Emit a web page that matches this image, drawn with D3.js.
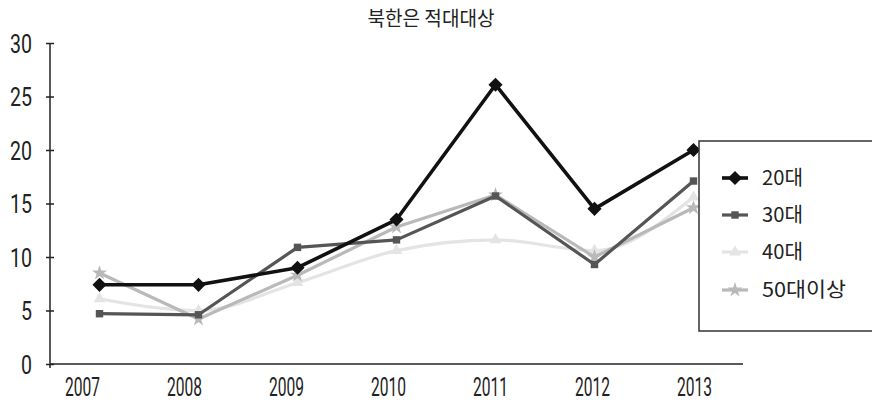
<!DOCTYPE html>
<html><head><meta charset="utf-8">
<script src="https://cdn.jsdelivr.net/npm/d3@7"></script>
<style>
html,body{margin:0;padding:0;background:#fff;}
svg{display:block;font-family:"Noto Sans CJK KR","Noto Sans",sans-serif;}
</style></head>
<body>
<svg id="c" width="872" height="403"></svg>
<script>
const title = "북한은 적대대상";
const years = ["2007","2008","2009","2010","2011","2012","2013"];
const yTicks = [0,5,10,15,20,25,30];
const seriesNames = ["20대","30대","40대","50대이상"];
const s20 = [7.4, 7.4, 9.0, 13.5, 26.1, 14.5, 20.0];
const s30 = [4.7, 4.6, 10.9, 11.6, 15.7, 9.3, 17.1];
const s40 = [6.1, 5.0, 7.6, 10.6, 11.6, 10.6, 15.6];
const s50 = [8.5, 4.2, 8.3, 12.8, 15.8, 10.0, 14.6];

const styles = [
  {color:"#111111", width:3.6, marker:"diamond", size:100},
  {color:"#555555", width:3.2, marker:"square", size:55},
  {color:"#e4e4e4", width:3.2, marker:"triangle", size:60},
  {color:"#b9b9b9", width:3.2, marker:"star", size:70}
];
const data = [s20, s30, s40, s50];
const numFont = "Roboto, 'DejaVu Sans', sans-serif";

const svg = d3.select("#c");
const x0 = 50, x1 = 743, yTop = 43, yBot = 364;
const x = d3.scaleBand().domain(years).range([x0, x1]);
// tick labels in the scan sit on a slightly wider spacing than the points
const xLab = d3.scalePoint().domain(years).range([82, 694]);
const y = d3.scaleLinear().domain([0,30]).range([yBot, yTop]);

svg.append("text").attr("x", 431).attr("y", 26).attr("text-anchor","middle")
  .attr("font-size", 20).attr("fill","#222")
  .attr("textLength",127).attr("lengthAdjust","spacingAndGlyphs")
  .text(title);

// y axis
const ya = svg.append("g").attr("transform", `translate(${x0},0)`)
  .call(d3.axisLeft(y).tickValues(yTicks).tickSize(0).tickPadding(18));
ya.select(".domain").attr("stroke","#222").attr("stroke-width",1.5).attr("d", `M0,${yTop}V${yBot+4}`);
ya.selectAll(".tick").each(function(d){
  const g = d3.select(this);
  g.append("line").attr("x1",-4).attr("x2",4).attr("stroke","#222").attr("stroke-width",1.5);
  const s = String(d);
  g.select("text").attr("x",-18).attr("text-anchor","end").attr("dy","0.36em")
    .attr("font-size",25).attr("fill","#222").attr("font-family",numFont)
    .attr("textLength", s.length*11).attr("lengthAdjust","spacingAndGlyphs");
});

// x axis line
svg.append("line").attr("x1",x0).attr("x2",x1).attr("y1",yBot).attr("y2",yBot)
  .attr("stroke","#222").attr("stroke-width",1.5);
// x tick labels
const xa = svg.append("g").attr("transform", `translate(0,${yBot})`)
  .call(d3.axisBottom(xLab).tickSize(0).tickPadding(0));
xa.select(".domain").remove();
xa.selectAll("text").attr("font-size",25).attr("fill","#222").attr("y",32).attr("dy",null)
  .attr("font-family",numFont).attr("textLength",35).attr("lengthAdjust","spacingAndGlyphs");

const cx = i => x(years[i]) + x.bandwidth()/2;
const symType = {diamond:d3.symbolSquare, square:d3.symbolSquare, triangle:d3.symbolTriangle, star:d3.symbolStar};
const rot = m => m==="diamond" ? " rotate(45)" : "";

[2,3,1,0].forEach(k => {
  const st = styles[k];
  const line = d3.line().x((d,i)=>cx(i)).y(d=>y(d))
    .curve(k===2 ? d3.curveMonotoneX : d3.curveLinear);
  svg.append("path").datum(data[k]).attr("d", line).attr("fill","none")
    .attr("stroke", st.color).attr("stroke-width", st.width).attr("stroke-linejoin","round");
  svg.append("g").selectAll("path").data(data[k]).join("path")
    .attr("transform",(d,i)=>`translate(${cx(i)},${y(d)})${rot(st.marker)}`)
    .attr("d", d3.symbol().type(symType[st.marker]).size(st.size))
    .attr("fill", st.color);
});

// legend
const lg = svg.append("g");
lg.append("rect").attr("x",699).attr("y",141).attr("width",200).attr("height",190)
  .attr("fill","#fff").attr("stroke","#333").attr("stroke-width",1.5);
const rowY = [178, 215, 252, 290];
const textW = [41, 41, 41, 84];
seriesNames.forEach((n,k)=>{
  const st = styles[k];
  lg.append("line").attr("x1",722).attr("x2",748).attr("y1",rowY[k]).attr("y2",rowY[k])
    .attr("stroke",st.color).attr("stroke-width",st.width);
  lg.append("path").attr("transform",`translate(735,${rowY[k]})${rot(st.marker)}`)
    .attr("d", d3.symbol().type(symType[st.marker]).size(st.size)).attr("fill",st.color);
  lg.append("text").attr("x",762).attr("y",rowY[k]).attr("dy","0.36em")
    .attr("font-size",20).attr("fill","#222")
    .attr("textLength",textW[k]).attr("lengthAdjust","spacingAndGlyphs").text(n);
});
</script>
</body></html>
